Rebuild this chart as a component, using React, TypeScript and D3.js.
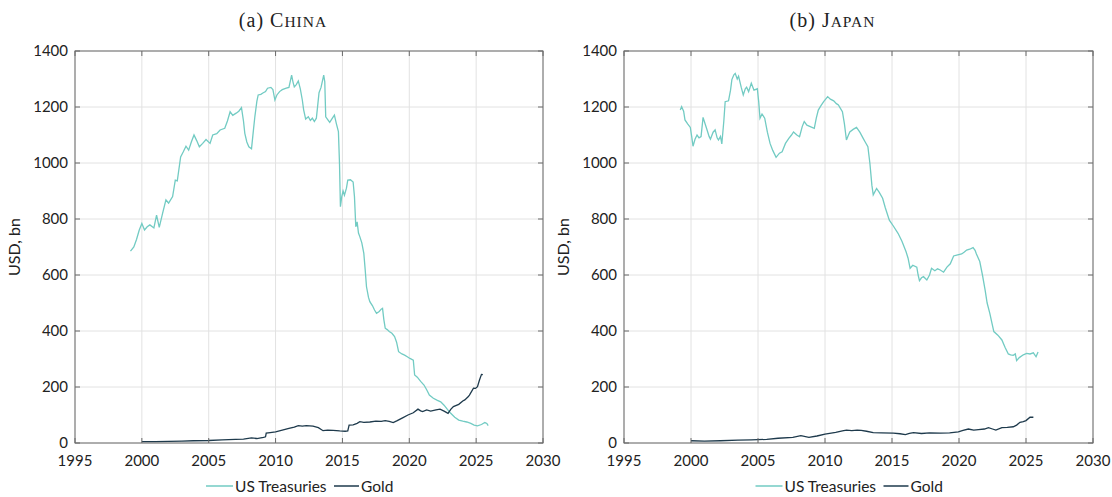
import React from 'react';
import * as d3 from 'd3';

// [year, USD bn]
const chinaTreasuries: [number, number][] = [
  [1999.15, 685], [1999.4, 700], [1999.6, 727], [1999.8, 760], [2000.0, 784], [2000.2, 761], [2000.4, 772],
  [2000.6, 779], [2000.9, 768], [2001.1, 814], [2001.3, 770], [2001.55, 820], [2001.8, 868], [2002.0, 857],
  [2002.3, 880], [2002.5, 939], [2002.65, 936], [2002.9, 1022], [2003.1, 1040], [2003.3, 1060], [2003.5, 1046],
  [2003.7, 1075], [2003.9, 1100], [2004.1, 1080], [2004.3, 1058], [2004.55, 1070], [2004.8, 1084], [2005.1, 1070],
  [2005.3, 1100], [2005.6, 1105], [2005.85, 1118], [2006.2, 1124], [2006.4, 1150], [2006.6, 1183], [2006.8, 1170],
  [2007.05, 1178], [2007.25, 1185], [2007.45, 1198], [2007.6, 1150], [2007.7, 1106], [2007.85, 1075],
  [2008.0, 1058], [2008.2, 1051], [2008.35, 1120], [2008.45, 1165], [2008.6, 1220], [2008.7, 1243],
  [2008.9, 1245], [2009.05, 1250], [2009.25, 1255], [2009.4, 1267], [2009.65, 1270], [2009.8, 1262],
  [2009.95, 1225], [2010.1, 1243], [2010.3, 1255], [2010.5, 1262], [2010.8, 1267], [2011.0, 1270],
  [2011.2, 1314], [2011.3, 1290], [2011.4, 1272], [2011.55, 1280], [2011.7, 1293], [2011.85, 1265],
  [2012.0, 1225], [2012.1, 1190], [2012.25, 1157], [2012.45, 1165], [2012.6, 1152], [2012.75, 1160],
  [2012.9, 1148], [2013.05, 1160], [2013.15, 1205], [2013.25, 1251], [2013.4, 1270], [2013.6, 1314],
  [2013.68, 1290], [2013.75, 1165], [2013.9, 1155], [2014.05, 1145], [2014.25, 1160], [2014.4, 1171],
  [2014.55, 1140], [2014.7, 1112], [2014.78, 1000], [2014.85, 844], [2014.95, 880], [2015.05, 900],
  [2015.15, 885], [2015.3, 910], [2015.4, 939], [2015.6, 940], [2015.8, 932], [2015.9, 880], [2016.0, 772],
  [2016.1, 790], [2016.2, 750], [2016.3, 737], [2016.45, 715], [2016.6, 677], [2016.7, 620], [2016.8, 558],
  [2016.95, 520], [2017.05, 505], [2017.25, 490], [2017.4, 475], [2017.55, 463], [2017.75, 470], [2017.9, 478],
  [2018.0, 481], [2018.1, 440], [2018.2, 410], [2018.35, 405], [2018.5, 398], [2018.7, 392], [2018.9, 380],
  [2019.05, 360], [2019.2, 326], [2019.45, 318], [2019.65, 314], [2019.85, 308], [2020.05, 302], [2020.3, 296],
  [2020.4, 243], [2020.6, 235], [2020.85, 220], [2021.1, 207], [2021.3, 190], [2021.5, 171], [2021.8, 160],
  [2022.1, 152], [2022.35, 147], [2022.6, 135], [2022.85, 120], [2023.1, 106], [2023.4, 92], [2023.7, 82],
  [2024.0, 78], [2024.3, 75], [2024.6, 70], [2024.85, 64], [2025.1, 61], [2025.4, 66], [2025.65, 73],
  [2025.8, 70], [2025.9, 62],
];

const chinaGold: [number, number][] = [
  [2000.0, 5], [2001.0, 5], [2002.0, 6], [2003.0, 7], [2003.85, 8], [2005.0, 9], [2006.0, 11], [2007.0, 13],
  [2007.6, 14], [2008.2, 18], [2008.6, 16], [2009.1, 20], [2009.25, 22], [2009.3, 35], [2009.6, 37],
  [2010.0, 40], [2010.5, 46], [2011.0, 52], [2011.4, 57], [2011.7, 62], [2012.0, 60], [2012.3, 62],
  [2012.8, 60], [2013.2, 55], [2013.55, 44], [2013.9, 46], [2014.3, 45], [2014.8, 43], [2015.2, 42],
  [2015.4, 43], [2015.5, 64], [2015.8, 65], [2016.1, 70], [2016.3, 76], [2016.6, 74], [2017.05, 75],
  [2017.5, 78], [2017.9, 77], [2018.2, 80], [2018.5, 77], [2018.8, 73], [2019.1, 80], [2019.5, 90],
  [2019.9, 100], [2020.3, 108], [2020.65, 121], [2020.85, 115], [2021.0, 112], [2021.3, 118], [2021.6, 114],
  [2022.0, 118], [2022.3, 121], [2022.6, 114], [2022.9, 106], [2023.1, 120], [2023.3, 130], [2023.7, 138],
  [2024.0, 150], [2024.15, 154], [2024.4, 165], [2024.5, 171], [2024.8, 196], [2024.95, 195], [2025.1, 201],
  [2025.25, 225], [2025.4, 245], [2025.5, 244],
];

const japanTreasuries: [number, number][] = [
  [1999.2, 1189], [1999.3, 1201], [1999.45, 1185], [1999.55, 1154], [1999.75, 1140], [1999.95, 1127],
  [2000.05, 1095], [2000.15, 1060], [2000.3, 1085], [2000.45, 1100], [2000.6, 1090], [2000.75, 1094],
  [2000.9, 1163], [2001.05, 1140], [2001.2, 1118], [2001.35, 1095], [2001.45, 1085], [2001.65, 1110],
  [2001.8, 1118], [2001.95, 1090], [2002.05, 1082], [2002.2, 1095], [2002.3, 1068], [2002.45, 1150],
  [2002.55, 1219], [2002.8, 1222], [2002.95, 1260], [2003.05, 1298], [2003.2, 1315], [2003.3, 1320],
  [2003.45, 1300], [2003.55, 1310], [2003.75, 1270], [2003.9, 1243], [2004.05, 1265], [2004.15, 1271],
  [2004.3, 1255], [2004.5, 1285], [2004.7, 1260], [2004.95, 1265], [2005.05, 1220], [2005.15, 1160],
  [2005.3, 1175], [2005.5, 1160], [2005.7, 1110], [2005.9, 1070], [2006.1, 1045], [2006.35, 1020],
  [2006.6, 1035], [2006.8, 1040], [2007.05, 1070], [2007.3, 1088], [2007.5, 1100], [2007.65, 1111],
  [2007.9, 1100], [2008.1, 1094], [2008.3, 1130], [2008.45, 1148], [2008.65, 1135], [2008.9, 1130],
  [2009.2, 1124], [2009.35, 1160], [2009.5, 1189], [2009.7, 1205], [2009.9, 1219], [2010.2, 1237],
  [2010.4, 1228], [2010.65, 1222], [2010.85, 1212], [2011.0, 1207], [2011.15, 1195], [2011.3, 1183],
  [2011.45, 1140], [2011.6, 1082], [2011.75, 1100], [2011.85, 1111], [2012.1, 1120], [2012.35, 1127],
  [2012.6, 1110], [2012.85, 1088], [2013.0, 1075], [2013.2, 1058], [2013.35, 999], [2013.5, 920],
  [2013.6, 886], [2013.85, 909], [2014.05, 895], [2014.3, 874], [2014.5, 840], [2014.8, 796],
  [2015.1, 775], [2015.45, 749], [2015.75, 720], [2016.05, 683], [2016.2, 660], [2016.35, 624],
  [2016.55, 635], [2016.85, 628], [2016.95, 600], [2017.05, 580], [2017.2, 590], [2017.35, 594],
  [2017.6, 582], [2017.8, 600], [2017.95, 624], [2018.2, 615], [2018.4, 622], [2018.6, 618], [2018.85, 610],
  [2019.1, 628], [2019.35, 640], [2019.6, 668], [2019.9, 672], [2020.2, 675], [2020.4, 682], [2020.57, 689],
  [2020.8, 692], [2021.05, 698], [2021.2, 688], [2021.3, 675], [2021.55, 648], [2021.75, 600],
  [2021.95, 546], [2022.1, 500], [2022.3, 463], [2022.45, 430], [2022.6, 398], [2022.9, 385], [2023.2, 368],
  [2023.45, 340], [2023.68, 318], [2023.85, 315], [2024.05, 313], [2024.2, 318], [2024.3, 294],
  [2024.5, 305], [2024.8, 315], [2025.05, 320], [2025.3, 318], [2025.55, 322], [2025.75, 308], [2025.9, 325],
];

const japanGold: [number, number][] = [
  [2000.0, 8], [2001.0, 7], [2002.2, 8], [2003.5, 10], [2004.5, 11], [2005.65, 13], [2006.5, 17],
  [2007.6, 20], [2008.2, 26], [2008.8, 20], [2009.4, 25], [2010.0, 32], [2010.8, 38], [2011.3, 43],
  [2011.6, 46], [2012.0, 44], [2012.4, 46], [2012.7, 45], [2013.1, 42], [2013.6, 37], [2014.2, 36],
  [2015.1, 35], [2015.6, 33], [2016.0, 30], [2016.3, 34], [2016.6, 37], [2017.2, 34], [2017.8, 36],
  [2018.6, 35], [2019.3, 36], [2019.95, 40], [2020.3, 45], [2020.7, 50], [2021.1, 46], [2021.45, 48],
  [2021.9, 50], [2022.2, 55], [2022.5, 50], [2022.75, 46], [2023.2, 55], [2023.6, 56], [2024.05, 58],
  [2024.3, 64], [2024.55, 74], [2024.8, 76], [2025.0, 80], [2025.3, 92], [2025.55, 92],
];

const xTicks = [1995, 2000, 2005, 2010, 2015, 2020, 2025, 2030];
const yTicks = [0, 200, 400, 600, 800, 1000, 1200, 1400];

const panels = [
  { tag: '(a) ', cap: 'C', rest: 'HINA', left: 75, right: 543, treasuries: chinaTreasuries, gold: chinaGold },
  { tag: '(b) ', cap: 'J', rest: 'APAN', left: 624, right: 1093, treasuries: japanTreasuries, gold: japanGold },
];

const TEAL = '#72cbc3';
const NAVY = '#1e3a4c';
const TOP = 51;
const BOTTOM = 443;
const tickFont = 'Lato, "Open Sans", sans-serif';
const serif = '"Liberation Serif", "DejaVu Serif", serif';

function Panel({ p }: { p: (typeof panels)[number] }) {
  const x = d3.scaleLinear().domain([1995, 2030]).range([p.left, p.right]);
  const y = d3.scaleLinear().domain([0, 1400]).range([BOTTOM, TOP]);
  const line = d3
    .line<[number, number]>()
    .x((d) => x(d[0]))
    .y((d) => y(d[1]));
  const cx = (p.left + p.right) / 2;
  return (
    <g>
      <text x={cx - 26} y={27} textAnchor="middle" fontFamily={serif} fontSize={20} fill="#222" letterSpacing={1}>
        {p.tag}
        {p.cap}
        <tspan fontSize={15.5}>{p.rest}</tspan>
      </text>
      {xTicks.map((t) => (
        <line key={'gx' + t} x1={x(t)} x2={x(t)} y1={TOP} y2={BOTTOM} stroke="#e2e2e2" strokeWidth={1} />
      ))}
      {yTicks.map((t) => (
        <line key={'gy' + t} x1={p.left} x2={p.right} y1={y(t)} y2={y(t)} stroke="#e2e2e2" strokeWidth={1} />
      ))}
      <path d={line(p.treasuries) || ''} fill="none" stroke={TEAL} strokeWidth={1.3} />
      <path d={line(p.gold) || ''} fill="none" stroke={NAVY} strokeWidth={1.3} />
      <rect x={p.left} y={TOP} width={p.right - p.left} height={BOTTOM - TOP} fill="none" stroke="#6a6a6a" strokeWidth={1} />
      {xTicks.map((t) => (
        <g key={'tx' + t}>
          <line x1={x(t)} x2={x(t)} y1={BOTTOM} y2={BOTTOM - 5} stroke="#6a6a6a" />
          <line x1={x(t)} x2={x(t)} y1={TOP} y2={TOP + 5} stroke="#6a6a6a" />
          <text x={x(t)} y={466} textAnchor="middle" fontFamily={tickFont} fontSize={15} fill="#222">
            {t}
          </text>
        </g>
      ))}
      {yTicks.map((t) => (
        <g key={'ty' + t}>
          <line x1={p.left} x2={p.left + 5} y1={y(t)} y2={y(t)} stroke="#6a6a6a" />
          <line x1={p.right} x2={p.right - 5} y1={y(t)} y2={y(t)} stroke="#6a6a6a" />
          <text x={p.left - 7} y={y(t) + 5} textAnchor="end" fontFamily={tickFont} fontSize={15} fill="#222">
            {t}
          </text>
        </g>
      ))}
      <text
        transform={`translate(${p.left - 55},${(TOP + BOTTOM) / 2}) rotate(-90)`}
        textAnchor="middle"
        fontFamily={tickFont}
        fontSize={16}
        fill="#222"
      >
        USD, bn
      </text>
      <g transform={`translate(${cx - 103},486)`}>
        <line x1={0} x2={27} y1={0} y2={0} stroke={TEAL} strokeWidth={1.5} />
        <text x={29} y={6} fontFamily={tickFont} fontSize={15.5} fill="#222">
          US Treasuries
        </text>
        <line x1={128} x2={153} y1={0} y2={0} stroke={NAVY} strokeWidth={1.5} />
        <text x={155} y={6} fontFamily={tickFont} fontSize={15.5} fill="#222">
          Gold
        </text>
      </g>
    </g>
  );
}

export default function App() {
  return (
    <svg width={1112} height={497} style={{ position: 'absolute', left: 0, top: 0, background: '#fff' }}>
      {panels.map((p) => (
        <Panel key={p.cap} p={p} />
      ))}
    </svg>
  );
}
